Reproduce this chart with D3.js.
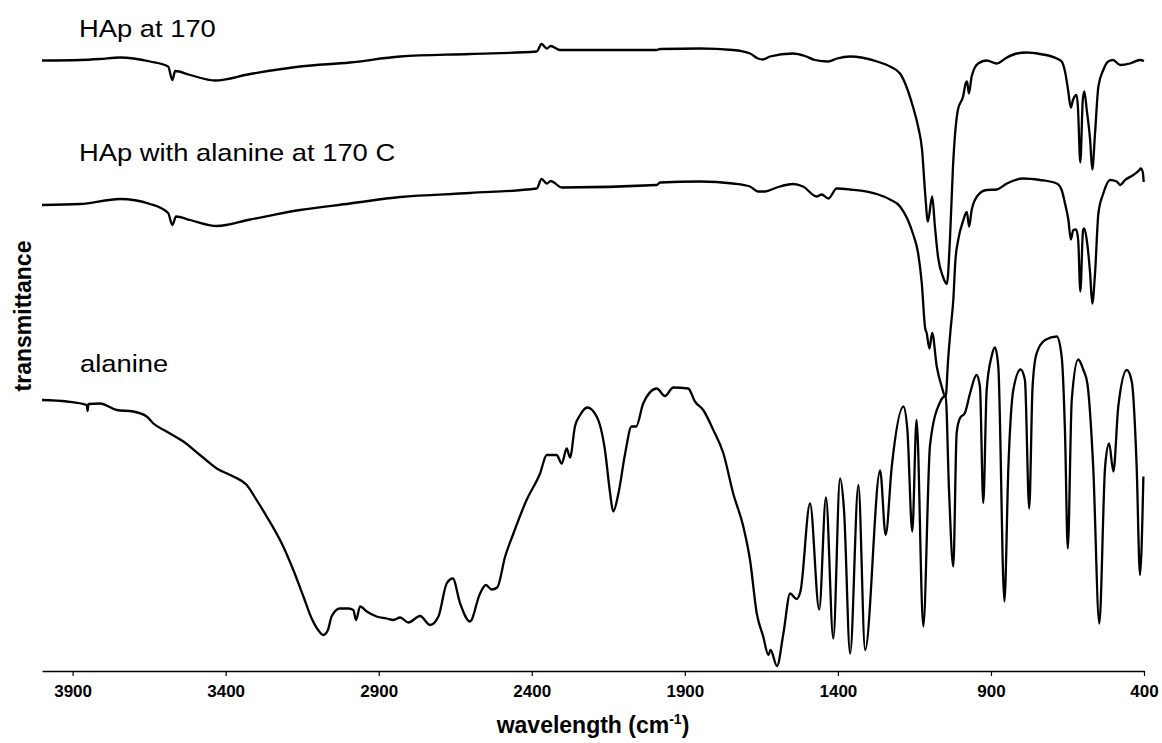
<!DOCTYPE html>
<html>
<head>
<meta charset="utf-8">
<script src="https://cdn.jsdelivr.net/npm/d3@7"></script>
<style>
  body { margin: 0; background: #fff; }
  svg { display: block; }
  text { font-family: "Liberation Sans", Arial, Helvetica, sans-serif; fill: #000; }
</style>
</head>
<body>
<svg id="chart" width="1162" height="743"></svg>
<script>
// Wavenumber ticks (cm-1), axis runs high to low
const xTicks = [3900, 3400, 2900, 2400, 1900, 1400, 900, 400];
const seriesNames = ["HAp at 170", "HAp with alanine at 170 C", "alanine"];

// [wavenumber, transmittance (a.u., stacked)]
const hap170 = [
  [4000,122.1],[3876,122.2],[3811,122.4],[3745,122.7],[3647,121.9],[3588,120.9],
  [3574,118.2],[3565,120.0],[3516,119.2],[3435,118.1],[3320,119.4],[3157,120.9],
  [2994,121.7],[2830,122.9],[2602,123.4],[2384,123.9],[2368,125.4],[2351,124.5],
  [2338,125.0],[2308,124.2],[1992,124.2],[1981,124.4],[1850,124.5],[1743,124.2],
  [1687,123.5],[1661,122.5],[1645,122.3],[1622,122.9],[1547,123.5],[1507,123.0],
  [1475,122.2],[1432,121.9],[1403,122.5],[1360,122.9],[1272,121.9],[1230,120.9],
  [1197,119.5],[1155,112.9],[1138,108.9],[1125,104.2],[1115,95.6],[1106,89.9],
  [1092,94.9],[1083,88.9],[1073,82.9],[1057,78.9],[1044,77.4],[1034,86.2],
  [1024,100.9],[1008,112.2],[991,114.9],[982,117.6],[978,117.9],[972,115.5],
  [963,118.9],[942,121.5],[914,122.1],[881,121.5],[848,122.7],[816,123.5],
  [783,123.7],[740,123.4],[685,122.5],[669,121.9],[658,119.9],[648,116.2],
  [639,112.7],[632,114.2],[620,115.2],[616,112.9],[608,101.7],[600,114.2],
  [595,115.9],[587,112.2],[576,106.2],[569,100.3],[560,107.5],[549,116.9],
  [533,120.2],[517,121.9],[501,122.2],[478,121.2],[446,121.5],[413,122.2],
  [400,122.0]
];

const hapAlanine170 = [
  [4000,93.2],[3876,93.4],[3745,94.4],[3647,93.4],[3588,91.6],[3574,89.2],
  [3562,90.9],[3516,90.2],[3429,89.0],[3320,90.3],[3157,92.2],[2994,93.5],
  [2830,94.8],[2602,95.6],[2384,96.5],[2368,98.4],[2351,97.5],[2338,98.0],
  [2302,96.7],[1992,97.2],[1981,97.7],[1850,97.9],[1743,97.5],[1687,96.9],
  [1661,95.9],[1638,95.9],[1600,96.7],[1547,97.4],[1514,96.9],[1469,94.9],
  [1453,95.3],[1431,94.5],[1404,96.5],[1360,96.3],[1273,95.4],[1230,94.3],
  [1197,92.9],[1155,87.5],[1138,83.6],[1126,77.6],[1115,68.6],[1110,67.6],
  [1101,64.5],[1092,67.6],[1077,60.9],[1061,56.9],[1048,54.8],[1040,62.2],
  [1032,68.2],[1023,74.2],[1016,82.2],[1007,86.2],[991,90.0],[979,91.8],
  [971,88.9],[963,92.2],[942,95.2],[914,96.2],[881,96.3],[848,97.5],
  [795,98.5],[740,98.2],[685,97.5],[669,96.2],[658,93.5],[647,90.2],
  [639,86.3],[631,88.2],[622,88.3],[615,86.2],[608,75.9],[599,88.2],
  [595,88.5],[587,86.2],[576,79.5],[569,73.5],[560,79.5],[549,91.5],
  [533,95.5],[511,98.2],[489,97.9],[478,97.2],[462,98.2],[435,99.2],
  [415,100.2],[411,100.5],[404,99.8],[401,97.8]
];

const alanine = [
  [4000,54.2],[3919,53.9],[3854,53.2],[3851,52.0],[3848,53.4],[3811,53.5],
  [3756,52.2],[3702,51.9],[3658,50.9],[3636,49.5],[3593,47.9],[3538,45.9],
  [3484,43.2],[3429,40.5],[3375,38.9],[3331,37.2],[3299,34.2],[3266,30.9],
  [3212,24.9],[3179,20.2],[3146,14.9],[3119,10.5],[3098,8.2],[3081,7.2],
  [3066,8.2],[3054,10.9],[3027,12.5],[2999,12.5],[2983,12.2],[2974,10.2],
  [2961,12.9],[2939,11.9],[2907,10.9],[2874,10.5],[2852,10.2],[2830,10.7],
  [2803,9.7],[2765,11.0],[2732,9.2],[2705,10.9],[2678,17.5],[2658,18.5],
  [2634,13.5],[2602,9.9],[2569,15.5],[2550,17.2],[2531,16.3],[2513,16.7],
  [2487,22.9],[2460,27.5],[2417,34.2],[2373,39.5],[2351,43.2],[2319,43.2],
  [2302,41.5],[2286,44.5],[2275,42.7],[2259,48.9],[2242,51.2],[2219,52.7],
  [2188,50.9],[2161,44.2],[2144,35.5],[2134,31.9],[2117,35.5],[2095,43.5],
  [2074,48.9],[2059,48.9],[2036,53.5],[1992,56.5],[1965,55.0],[1938,56.7],
  [1889,56.5],[1867,53.9],[1840,52.2],[1807,48.2],[1774,43.5],[1742,35.5],
  [1709,28.9],[1687,22.2],[1665,11.5],[1644,6.9],[1627,3.2],[1620,4.2],
  [1599,1.0],[1578,7.5],[1556,15.5],[1535,14.4],[1522,16.0],[1491,33.5],
  [1461,12.3],[1439,34.7],[1415,6.5],[1393,38.5],[1380,32.2],[1360,3.5],
  [1333,37.2],[1311,4.2],[1262,40.1],[1244,27.2],[1224,40.9],[1186,52.9],
  [1173,48.2],[1157,27.9],[1143,50.2],[1121,8.9],[1099,45.2],[1066,53.8],
  [1048,55.0],[1037,36.2],[1023,20.9],[1012,47.6],[1001,50.6],[985,51.6],
  [968,55.6],[947,59.2],[936,56.9],[925,33.6],[914,56.2],[898,62.9],
  [887,64.7],[876,60.9],[856,13.9],[843,40.9],[827,56.2],[803,60.3],
  [789,58.2],[775,32.5],[764,56.9],[751,63.5],[723,66.2],[685,66.9],
  [669,62.9],[658,47.6],[649,24.5],[636,54.2],[615,62.3],[598,60.2],
  [585,57.5],[566,40.9],[546,9.5],[527,40.9],[514,45.5],[500,39.9],
  [484,52.9],[456,60.2],[440,57.9],[424,40.9],[413,19.2],[402,38.9]
];

const svg = d3.select("#chart");

const x = d3.scaleLinear().domain([4000, 400]).range([42, 1144]);
const y = d3.scaleLinear().domain([0, 130]).range([671, 21]);

// x axis: baseline, downward ticks, labels below
const xAxis = d3.axisBottom(x)
  .tickValues(xTicks)
  .tickSize(5)
  .tickSizeOuter(0)
  .tickFormat(d3.format("d"));

const gx = svg.append("g")
  .attr("transform", `translate(0,${y(0)})`)
  .call(xAxis);
gx.select(".domain").attr("stroke", "#000").attr("stroke-width", 1.3);
gx.selectAll(".tick line").attr("stroke", "#000").attr("stroke-width", 1.2);
gx.selectAll(".tick text")
  .attr("y", 14)
  .attr("dy", "0.71em")
  .style("font-size", "17px")
  .style("font-weight", "bold")
  .style("font-family", "'Liberation Sans', Arial, sans-serif")
  .attr("fill", "#000");

// Axis titles
const xTitle = svg.append("text")
  .attr("x", 593)
  .attr("y", 733)
  .attr("text-anchor", "middle")
  .style("font-size", "23px")
  .style("font-weight", "bold");
xTitle.append("tspan").text("wavelength (cm");
xTitle.append("tspan").attr("dy", -9).style("font-size", "14px").text("-1");
xTitle.append("tspan").attr("dy", 9).text(")");

svg.append("text")
  .attr("transform", "translate(31,316) rotate(-90)")
  .attr("text-anchor", "middle")
  .style("font-size", "23px")
  .style("font-weight", "bold")
  .text("transmittance");

// Spectra
const line = d3.line()
  .x(d => x(d[0]))
  .y(d => y(d[1]))
  .curve(d3.curveMonotoneX);

[hap170, hapAlanine170, alanine].forEach(series => {
  svg.append("path")
    .datum(series)
    .attr("fill", "none")
    .attr("stroke", "#000")
    .attr("stroke-width", 2.3)
    .attr("stroke-linejoin", "round")
    .attr("d", line);
});

// Trace labels, placed above the start of each trace
const labelAnchors = [[79, 37], [79, 161], [80, 372]];
seriesNames.forEach((name, i) => {
  svg.append("text")
    .attr("transform", `translate(${labelAnchors[i][0]},${labelAnchors[i][1]}) scale(1.14,1)`)
    .style("font-size", "24px")
    .text(name);
});
</script>
</body>
</html>
